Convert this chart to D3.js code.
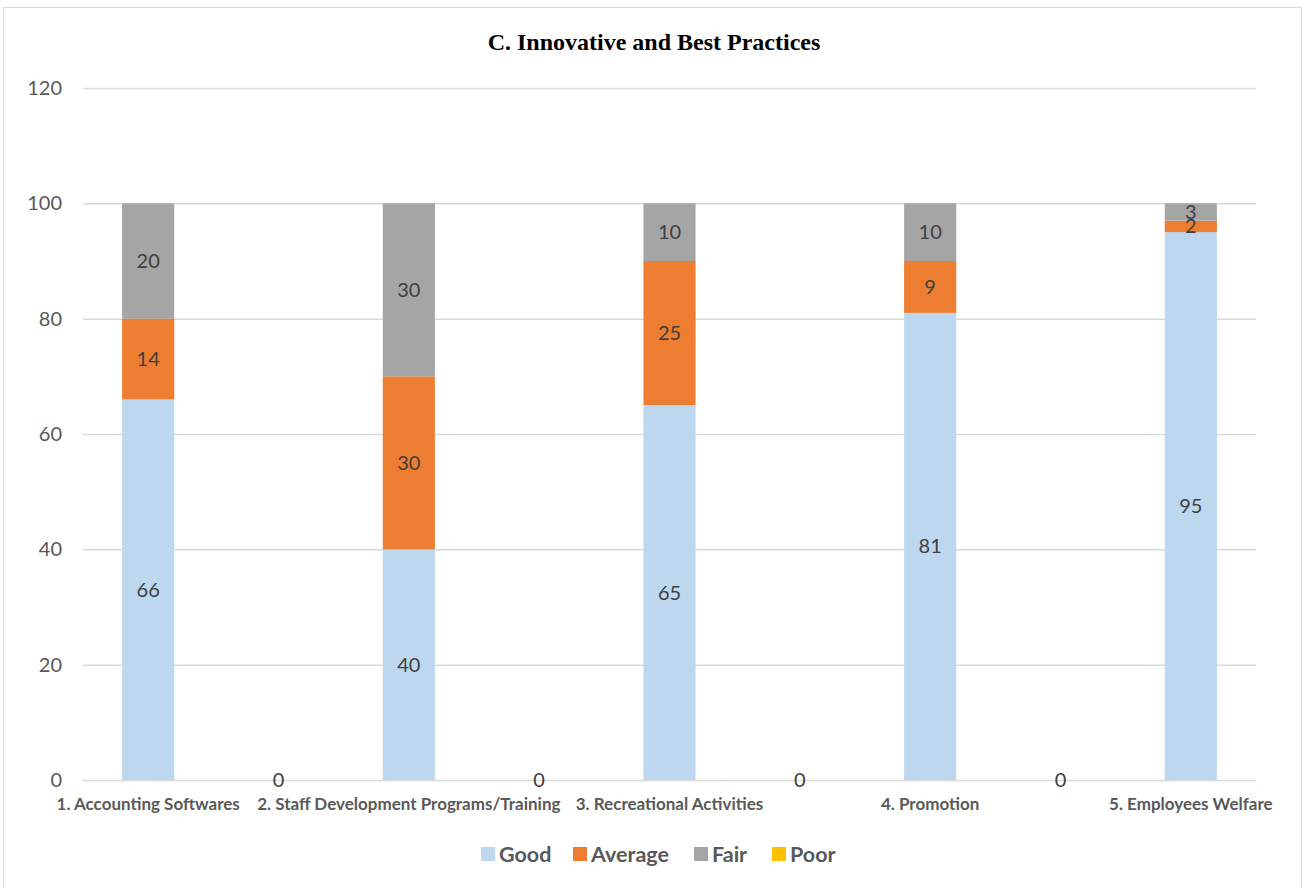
<!DOCTYPE html>
<html><head><meta charset="utf-8">
<script src="https://cdn.jsdelivr.net/npm/d3@7"></script>
<style>body{margin:0;background:#fff}</style>
</head><body>
<svg id="chart" width="1305" height="888"></svg>
<script>
const categories = ["1. Accounting Softwares","2. Staff Development Programs/Training","3. Recreational Activities","4. Promotion","5. Employees Welfare"];
const seriesNames = ["Good","Average","Fair","Poor"];
const good = [66,40,65,81,95];
const average = [14,30,25,9,2];
const fair = [20,30,10,10,3];
const poor = [0,0,0,0,0];
const yTicks = [0,20,40,60,80,100,120];
const colors = ["#BDD7EE","#ED7D31","#A5A5A5","#FFC000"];

const svg = d3.select("#chart");
const font = "Lato, 'Open Sans', sans-serif";
svg.append("rect").attr("x",3.5).attr("y",7.5).attr("width",1298).attr("height",890).attr("fill","#fff").attr("stroke","#D9D9D9");

const y = d3.scaleLinear().domain([0,120]).range([780,88]);
const x = d3.scaleLinear().domain([-0.25,4.25]).range([83,1256]);
const barW = x(0.2)-x(0);

// gridlines
const gy = svg.append("g")
  .call(d3.axisLeft(y).tickValues(yTicks).tickSize(-(1256-83)).tickPadding(21))
  .attr("transform","translate(83,0)");
gy.select(".domain").remove();
gy.selectAll(".tick line").attr("stroke","#D9D9D9").attr("stroke-width",1.5);
gy.selectAll(".tick text").attr("font-family",font).attr("font-size",20).attr("fill","#595959");

const rows = categories.map((c,i)=>({cat:c,i,Good:good[i],Average:average[i],Fair:fair[i],Poor:poor[i]}));
const stack = d3.stack().keys(seriesNames)(rows);

stack.forEach((s,k)=>{
  svg.append("g").selectAll("rect").data(s).join("rect")
    .attr("x",d=>x(d.data.i)-barW/2).attr("width",barW)
    .attr("y",d=>y(d[1])).attr("height",d=>y(d[0])-y(d[1]))
    .attr("fill",colors[k]);
});
// data labels
stack.slice(0,3).forEach((s,k)=>{
  svg.append("g").selectAll("text").data(s).join("text")
    .attr("x",d=>x(d.data.i)).attr("y",d=>y((d[0]+d[1])/2)+7)
    .attr("text-anchor","middle").attr("font-family",font).attr("font-size",20)
    .attr("fill","#404040").text(d=>d[1]-d[0]);
});
// Poor labels (shown between categories)
svg.append("g").selectAll("text").data(poor.slice(0,4)).join("text")
  .attr("x",(d,i)=>x(i+0.5)).attr("y",(d)=>y(d)+7)
  .attr("text-anchor","middle").attr("font-family",font).attr("font-size",20)
  .attr("fill","#404040").text(d=>d);

// category labels
svg.append("g").selectAll("text").data(categories).join("text")
  .attr("x",(d,i)=>Math.min(x(i), 1276 - (d.length*0) ))
  .attr("y",810)
  .attr("text-anchor","middle").attr("font-family",font).attr("font-size",17).attr("font-weight","bold")
  .attr("fill","#595959").text(d=>d)
  .each(function(){
    const bb=this.getBBox();
    if(bb.x+bb.width>1276) d3.select(this).attr("x", 1276-bb.width/2);
  });

// title
svg.append("text").attr("x",654).attr("y",50).attr("text-anchor","middle")
  .attr("font-family","'Liberation Serif', 'Times New Roman', serif").attr("font-weight","bold")
  .attr("font-size",24).attr("fill","#000").text("C. Innovative and Best Practices");

// legend
const legX = [481,573,694,772];
const lg = svg.append("g").selectAll("g").data(seriesNames).join("g")
  .attr("transform",(d,i)=>`translate(${legX[i]},847)`);
lg.append("rect").attr("width",14).attr("height",14).attr("fill",(d,i)=>colors[i]);
lg.append("text").attr("x",18).attr("y",15).attr("font-family",font).attr("font-size",21.5)
  .attr("font-weight","bold").attr("fill","#595959").text(d=>d);
</script>
</body></html>
